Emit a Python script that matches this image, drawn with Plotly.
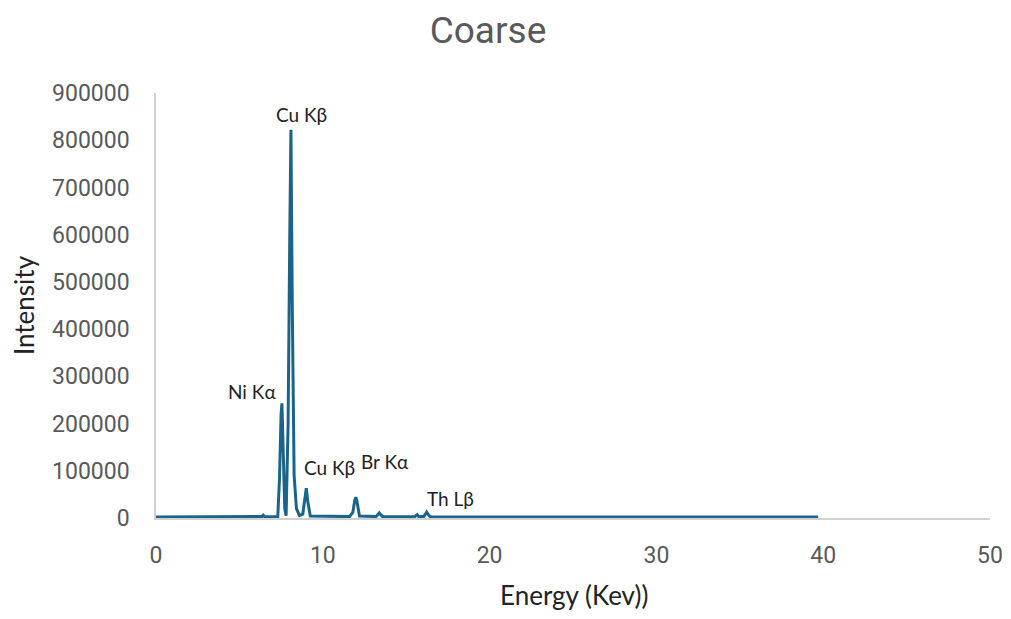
import plotly.graph_objects as go

# Hand-read spectrum points (energy in keV, intensity counts)
energy = [0.0, 2.0, 4.0, 6.2, 6.35, 6.43, 6.52, 7.3, 7.4, 7.5, 7.55, 7.62, 7.72, 7.8,
          7.92, 8.02, 8.09, 8.17, 8.28, 8.42, 8.6, 8.8, 8.9, 9.01, 9.1, 9.25,
          11.6, 11.8, 11.92, 11.98, 12.05, 12.2, 13.2, 13.3, 13.39, 13.5, 13.6,
          15.5, 15.6, 15.66, 15.75, 16.05, 16.15, 16.23, 16.32, 16.45,
          20.0, 25.0, 30.0, 35.0, 39.7]
intensity = [2000, 2000, 2000, 2000, 3000, 6000, 2500, 2500, 80000, 220000, 243000, 150000, 20000, 5000,
             200000, 600000, 822000, 450000, 90000, 20000, 5000, 8000, 40000, 63000, 35000, 4000,
             3000, 12000, 38000, 44000, 35000, 4000, 3000, 7000, 11000, 6000, 2500,
             2500, 5000, 7000, 3000, 3000, 8000, 12500, 7000, 2500,
             2000, 2000, 2000, 2000, 2000]

labels = ["Cu Kβ", "Ni Kα", "Cu Kβ", "Br Kα", "Th Lβ"]
label_x = [8.75, 5.76, 10.43, 13.73, 17.63]
label_y = [854000, 268500, 107800, 120500, 42300]

x_title = "Energy (Kev))"
y_title = "Intensity"

TICKFONT = dict(family="Roboto, sans-serif", size=23, color="#595959")
LABFONT = "Lato, Roboto, sans-serif"

fig = go.Figure()
fig.add_trace(go.Scatter(x=energy, y=intensity, mode="lines",
                         line=dict(color="#1b6489", width=3), showlegend=False))

for t, xv, yv in zip(labels, label_x, label_y):
    fig.add_annotation(x=xv, y=yv, text=t, showarrow=False,
                       font=dict(family=LABFONT, size=19, color="#222222"))

# x-axis title placed as a paper annotation for exact vertical placement
fig.add_annotation(xref="paper", yref="paper", x=0.501, y=-0.182, xanchor="center",
                   yanchor="middle", text=x_title, showarrow=False,
                   font=dict(family=LABFONT, size=26, color="#222222"))

fig.update_layout(
    width=995, height=603,
    paper_bgcolor="white", plot_bgcolor="white",
    margin=dict(l=148, r=13, t=85, b=93),
    title=dict(text="Coarse", xref="container", x=0.4824, xanchor="center",
               y=0.9635, yanchor="middle",
               font=dict(family="Roboto, sans-serif", size=37, color="#595959")),
    xaxis=dict(range=[0, 50], tickvals=[0, 10, 20, 30, 40, 50], showgrid=False,
               zeroline=False, showline=True, linecolor="#d0d0d0", linewidth=1.5,
               automargin=False, ticklabeloverflow="allow",
               ticks="outside", ticklen=16, tickcolor="rgba(0,0,0,0)",
               tickfont=TICKFONT),
    yaxis=dict(range=[0, 900000], dtick=100000, showgrid=False, zeroline=False,
               showline=True, linecolor="#d0d0d0", linewidth=1.5,
               automargin=False,
               ticks="outside", ticklen=20, tickcolor="rgba(0,0,0,0)", tickformat="d",
               tickfont=TICKFONT,
               title=dict(text=y_title, standoff=14,
                          font=dict(family=LABFONT, size=26, color="#222222"))),
)

fig.write_html("out.html")
